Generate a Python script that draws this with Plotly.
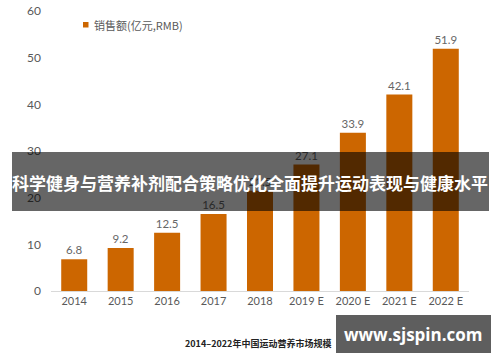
import plotly.graph_objects as go

categories = ["2014", "2015", "2016", "2017", "2018", "2019 E", "2020 E", "2021 E", "2022 E"]
sales = [6.8, 9.2, 12.5, 16.5, 21.5, 27.1, 33.9, 42.1, 51.9]
series_name = "销售额(亿元,RMB)"
y_ticks = [0, 10, 20, 30, 40, 50, 60]
banner_text = "科学健身与营养补剂配合策略优化全面提升运动表现与健康水平"
caption_text = "2014–2022年中国运动营养市场规模"
watermark_text = "www.sjspin.com"

W, H = 500, 362
L, R, T, B = 51, 31, 11, 71
PW, PH = W - L - R, H - T - B
BAR_COLOR = "#CC6600"
GREY = "#595959"


def fx(p):
    return (p - L) / PW


def fy(p):
    return (H - B - p) / PH


fig = go.Figure()
fig.add_trace(go.Bar(
    x=categories, y=sales, name=series_name,
    marker=dict(color=BAR_COLOR, line=dict(width=0)),
    text=[f"{v}" for v in sales], textposition="outside",
    textfont=dict(color="#666666", size=11.5, family="Lato"),
    cliponaxis=False,
    showlegend=False,
))

fig.update_layout(
    width=W, height=H,
    margin=dict(l=L, r=R, t=T, b=B, autoexpand=False),
    paper_bgcolor="white", plot_bgcolor="white",
    bargap=0.44,
    font=dict(family="Lato", color=GREY),
    showlegend=False,
    xaxis=dict(showgrid=False, showline=True, linecolor="#D9D9D9", linewidth=1,
               ticks="", automargin=False, tickfont=dict(size=11, color=GREY, family="Lato")),
    yaxis=dict(range=[0, 60], tickvals=y_ticks, showgrid=False, zeroline=False,
               showline=False, ticks="", ticklabelstandoff=9, automargin=False,
               tickfont=dict(size=12, color=GREY, family="Lato")),
)

# legend (symbol + label)
fig.add_shape(type="rect", xref="paper", yref="paper",
              x0=fx(83), x1=fx(88.5), y0=fy(27.5), y1=fy(22),
              fillcolor=BAR_COLOR, line=dict(width=0))
fig.add_annotation(text=series_name, xref="paper", yref="paper",
                   x=fx(92), y=fy(24.5), showarrow=False,
                   xanchor="left", yanchor="middle",
                   font=dict(size=11, color=GREY, family="Noto Sans CJK SC"))

# banner
fig.add_shape(type="rect", xref="paper", yref="paper",
              x0=fx(12), x1=fx(489), y0=fy(211), y1=fy(152),
              fillcolor="rgba(0,0,0,0.6)", line=dict(width=0), layer="above")
fig.add_annotation(text="<b>" + banner_text + "</b>", xref="paper", yref="paper",
                   x=fx(250), y=fy(182), showarrow=False,
                   font=dict(size=17, color="white", family="Noto Sans CJK SC"),
                   xanchor="center", yanchor="middle")

# caption
fig.add_annotation(text="<b>" + caption_text + "</b>", xref="paper", yref="paper",
                   x=fx(183), y=fy(343), showarrow=False, xanchor="left", yanchor="middle",
                   font=dict(size=9, color="#222222", family="Noto Sans CJK SC"))

# watermark
fig.add_shape(type="rect", xref="paper", yref="paper",
              x0=fx(336), x1=fx(491), y0=fy(353), y1=fy(315),
              fillcolor="#5E5E5E", line=dict(width=0), layer="above")
fig.add_annotation(text="<b>" + watermark_text + "</b>", xref="paper", yref="paper",
                   x=fx(413), y=fy(334), showarrow=False, xanchor="center", yanchor="middle",
                   font=dict(size=17, color="white", family="Open Sans"))

fig.write_html("out.html", config={"displayModeBar": False},
               post_script="document.body.style.margin='0';")
